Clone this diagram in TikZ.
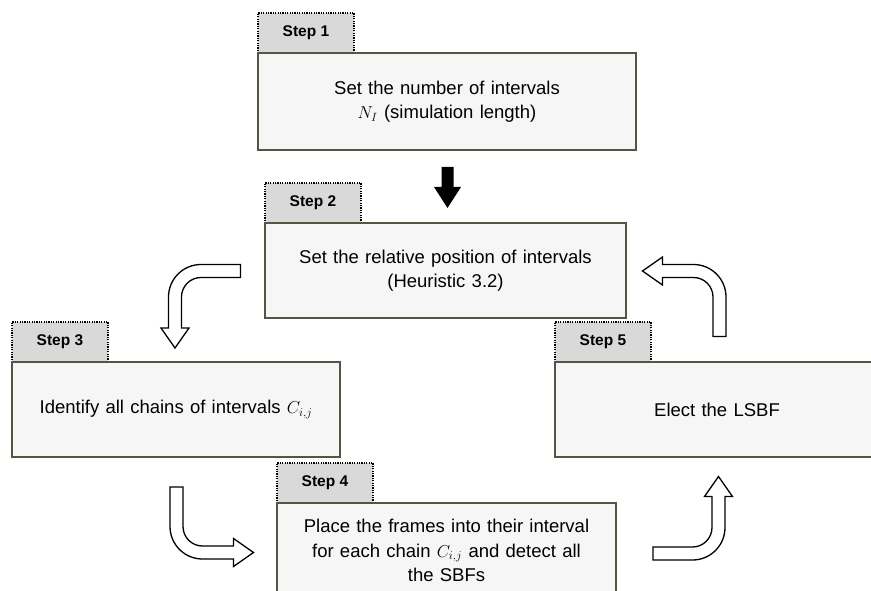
\documentclass[tikz,border=0pt]{standalone}
\usepackage{fontspec}
\setmainfont{Liberation Sans}
\newfontfamily\boxfam{Liberation Sans}[WordSpace=1.22]
\usetikzlibrary{positioning,calc,backgrounds}
\definecolor{stepGray}{RGB}{217,217,217}
\definecolor{boxFill}{RGB}{246,246,246}
\definecolor{boxEdge}{RGB}{89,83,70}

% hollow bent arrow, bend point at the origin
\tikzset{
  hollowbend/.pic={
    \draw[line width=1.3pt,fill=white]
      (65.5,-6.5) -- (26,-6.5) .. controls (8.05,-6.5) and (-6.5,8.05) .. (-6.5,26)
      -- (-6.5,57) -- (-14,57) -- (0,77) -- (14,57) -- (6.5,57) -- (6.5,26)
      .. controls (6.5,15.23) and (15.23,6.5) .. (26,6.5) -- (65.5,6.5) -- cycle;
  }
}

\begin{document}
\begin{tikzpicture}[x=1pt,y=-1pt,
    sbox/.style={draw=boxEdge,line width=1.6pt,fill=boxFill,minimum height=95pt,align=center,inner sep=0pt,outer sep=0pt,font=\boxfam\fontsize{18.5}{24.5}\selectfont},
    stab/.style={draw,line width=1.2pt,dash pattern=on 1.2pt off 1.2pt,fill=stepGray,minimum width=96pt,minimum height=40pt,inner sep=0pt,outer sep=0pt,font=\fontsize{15.5}{18}\selectfont\bfseries},
    node distance=0pt
  ]
    \useasboundingbox (0,0) rectangle (871,591);

    \node[sbox,minimum width=378pt,minimum height=97pt] (s1) at (447,101.5) {Set the number of intervals\\$N_I$ (simulation length)};
    \node[sbox,minimum width=361pt] (s2) at (445.5,270.5) {Set the relative position of intervals\\(Heuristic 3.2)};
    \node[sbox,minimum width=328pt] (s3) at (176,409.5) {Identify all chains of intervals $C_{i,j}$};
    \node[sbox,minimum width=339pt] (s4) at (446.5,550.5) {Place the frames into their interval\\for each chain $C_{i,j}$ and detect all\\the SBFs};
    \node[sbox,minimum width=324pt] (s5) at (717,409.5) {Elect the LSBF};

    \begin{scope}[on background layer]
      \node[stab,above right=0pt of s1.north west] (t1) {Step 1};
      \node[stab,above right=0pt of s2.north west] (t2) {Step 2};
      \node[stab,above right=0pt of s3.north west] (t3) {Step 3};
      \node[stab,above right=0pt of s4.north west] (t4) {Step 4};
      \node[stab,above right=0pt of s5.north west] (t5) {Step 5};
    \end{scope}

    \coordinate (d12) at ($(s1.south)+(0.5,17)$);
    \fill (d12) ++(-6,0) -- ++(12,0) -- ++(0,20) -- ++(7.5,0) -- ++(-13.5,21) -- ++(-13.5,-21) -- ++(7.5,0) -- cycle;

    \pic[rotate=0] at ($(s2.west)+(-90,0.5)$) {hollowbend};
    \pic[rotate=90] at ($(s3.south)+(0.5,95.5)$) {hollowbend};
    \pic[rotate=180] at ($(s5.south)+(1.5,96.5)$) {hollowbend};
    \pic[rotate=270] at ($(s5.north)+(2.5,-91)$) {hollowbend};
\end{tikzpicture}
\end{document}
